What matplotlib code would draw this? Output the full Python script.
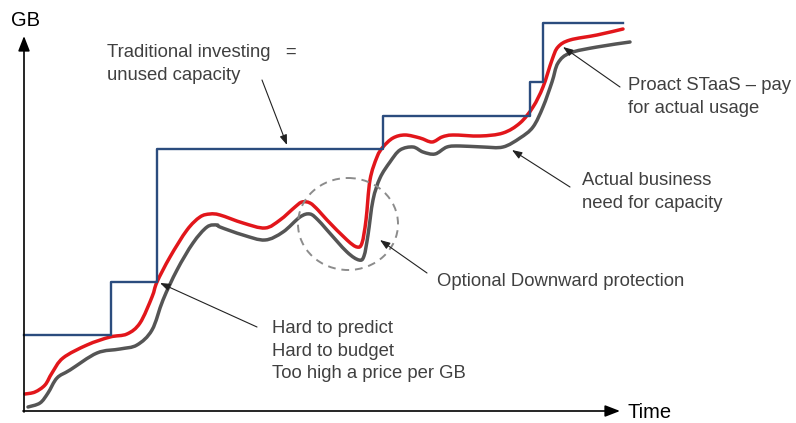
import numpy as np
import matplotlib.pyplot as plt
from matplotlib.patches import Ellipse, PathPatch
from matplotlib.path import Path

plt.rcParams['font.family'] = ['Liberation Sans', 'DejaVu Sans']

# values, in pixel units (y grows downward)
step_x = [24, 111, 157, 383, 530, 543, 623]
step_y = [335, 282, 149, 116, 82, 23, 23]

red_x = [25, 35, 45, 52, 63, 87, 110, 127, 140, 152, 157, 170, 187, 200, 210,
         220, 243, 265, 280, 295, 302, 310, 318, 327, 347, 357, 362, 366, 370,
         377, 383, 393, 405, 420, 432, 442, 453, 480, 503, 520, 533, 543, 552,
         558, 570, 597, 623]
red_y = [394, 392, 385, 373, 358, 345, 337, 334, 323, 297, 282, 257, 230, 217, 214,
         215, 223, 228, 220, 207, 202, 203, 210, 220, 240, 247, 243, 220, 180,
         157, 147, 138, 135, 138, 142, 137, 135, 136, 133, 123, 107, 87, 60,
         47, 40, 35, 29]

gray_x = [28, 40, 48, 57, 70, 97, 120, 137, 152, 163, 177, 193, 207, 217,
          220, 243, 265, 283, 300, 310, 318, 327, 347, 359, 364, 368, 373, 380,
          390, 400, 413, 423, 435, 447, 460, 483, 503, 520, 533, 543, 552, 558,
          570, 597, 630]
gray_y = [407, 403, 393, 378, 370, 353, 349, 345, 330, 300, 270, 243, 227, 225,
          227, 235, 240, 232, 217, 214, 220, 230, 252, 260, 256, 235, 200, 178,
          162, 150, 147, 152, 154, 147, 146, 147, 147, 138, 127, 107, 82, 63,
          53, 47, 42]

notes = [
    ("Traditional investing   =\nunused capacity", (107, 64), (262, 80), (287, 145)),
    ("Hard to predict\nHard to budget\nToo high a price per GB", (272, 351), (257, 327), (160, 283)),
    ("Optional Downward protection", (437, 281), (427, 273), (380, 240)),
    ("Proact STaaS \u2013 pay\nfor actual usage", (628, 97), (620, 87), (563, 47)),
    ("Actual business\nneed for capacity", (582, 192), (570, 187), (512, 150)),
]


def smooth_path(xs, ys):
    # bezier through the read points (catmull-rom tangents)
    p = np.column_stack([xs, ys]).astype(float)
    verts = [p[0]]
    codes = [Path.MOVETO]
    n = len(p)
    for i in range(n - 1):
        p0 = p[max(i - 1, 0)]
        p1 = p[i]
        p2 = p[i + 1]
        p3 = p[min(i + 2, n - 1)]
        verts += [p1 + (p2 - p0) / 6, p2 - (p3 - p1) / 6, p2]
        codes += [Path.CURVE4] * 3
    return Path(verts, codes)


fig = plt.figure(figsize=(7.96, 4.23), dpi=100)
ax = fig.add_axes([0, 0, 1, 1])
ax.set_xlim(0, 796)
ax.set_ylim(423, 0)
ax.axis('off')

# axes with arrow heads
ax.annotate('', xy=(24, 36), xytext=(24, 412),
            arrowprops=dict(arrowstyle='-|>,head_length=0.9,head_width=0.35',
                            color='black', lw=1.2, shrinkA=0, shrinkB=0))
ax.annotate('', xy=(620, 411), xytext=(23, 411),
            arrowprops=dict(arrowstyle='-|>,head_length=0.9,head_width=0.35',
                            color='black', lw=1.2, shrinkA=0, shrinkB=0))
ax.text(11, 20, "GB", fontsize=14.5, va='center', ha='left', color='black')
ax.text(628, 412, "Time", fontsize=14.5, va='center', ha='left', color='black')

ax.step(step_x, step_y, where='post', color='#2b4c7e', lw=1.7)
ax.add_patch(PathPatch(smooth_path(gray_x, gray_y), fill=False, ec='#555555',
                       lw=2.5, joinstyle='round', capstyle='round'))
ax.add_patch(PathPatch(smooth_path(red_x, red_y), fill=False, ec='#e2161b',
                       lw=2.5, joinstyle='round', capstyle='round'))

ax.add_patch(Ellipse((348, 224), 100, 92, fill=False, ls=(0, (4, 3)),
                     ec='#8c8c8c', lw=1.4))

for txt, pos, start, tip in notes:
    ax.text(pos[0], pos[1], txt, fontsize=13.3, color='#404040',
            va='center', ha='left', linespacing=1.42)
    ax.annotate('', xy=tip, xytext=start,
                arrowprops=dict(arrowstyle='-|>,head_length=0.6,head_width=0.22',
                                color='#222222', lw=0.8, shrinkA=0, shrinkB=0))

fig.savefig('out.png', dpi=100)
